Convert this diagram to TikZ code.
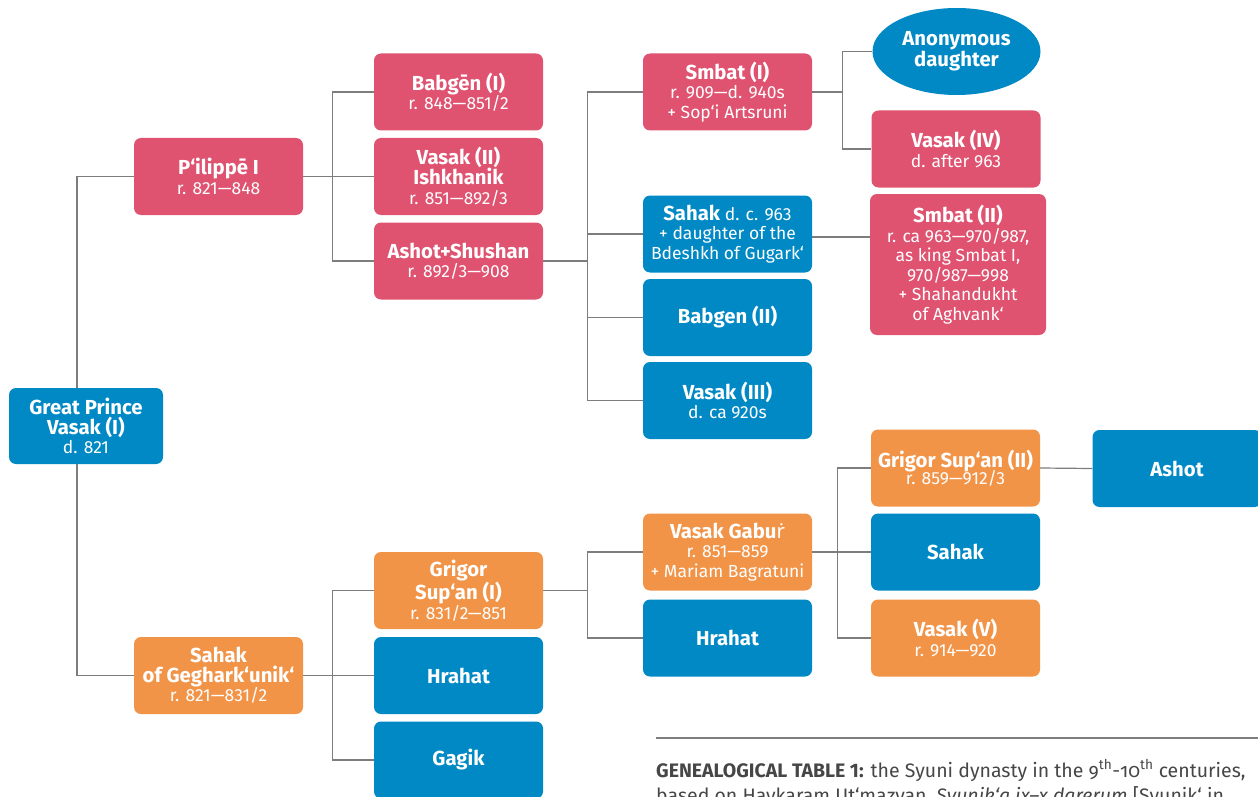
\documentclass[tikz,border=0pt]{standalone}
\usepackage{fontspec}
\setmainfont{Fira Sans}
\newfontfamily\extlatin{Noto Sans}
\usetikzlibrary{shapes.geometric,backgrounds,calc}

\definecolor{pinkbox}{RGB}{223,82,112}
\definecolor{bluebox}{RGB}{0,137,196}
\definecolor{orangebox}{RGB}{242,148,72}
\definecolor{linegray}{RGB}{125,125,125}
\definecolor{captext}{RGB}{70,70,70}

% name line inside a box
\newcommand{\nm}[1]{{\fontsize{20.3}{20}\selectfont\bfseries #1}}
\newcommand{\osn}[1]{{\addfontfeatures{Numbers=OldStyle}#1}}
% r with dot above, taken from a family that has the glyph
\newcommand{\rdot}{{\extlatin\bfseries ṙ}}

\tikzset{
  person/.style={rounded corners=7pt, minimum width=169pt, minimum height=77pt,
    align=center, text=white, inner sep=2pt, font=\fontsize{17.5}{19.5}\selectfont},
  pk/.style={person, fill=pinkbox},
  bl/.style={person, fill=bluebox},
  og/.style={person, fill=orangebox},
  link/.style={draw=linegray, line width=1.2pt},
  captionfont/.style={anchor=base west, inner sep=0pt, text=captext,
    font=\fontsize{19.5}{24}\selectfont},
}

\begin{document}
\begin{tikzpicture}[x=1pt,y=-1pt]
\useasboundingbox (0,0) rectangle (1258,797);
\clip (0,0) rectangle (1258,797);

% generation 1
\node[bl, minimum width=154pt, minimum height=76pt] (vasakI) at (86,426)
  {\nm{Great Prince}\\\nm{Vasak (I)}\\d. 821};
\coordinate (trunk) at (77,426);

% generation 2
\node[pk] (pilippe) at (218.5,176.5) {\nm{P‘ilippē I}\\r. 821—848};
\node[og] (sahakG) at (218.5,675.5) {\nm{Sahak}\\\nm{of Geghark‘unik‘}\\r. 821—831/2};

% generation 3
\node[pk] (babgenI) at (458.5,92) {\nm{Babgēn (I)}\\r. 848—851/2};
\node[pk] (vasakII) at (458.5,176.5) {\nm{Vasak (II)}\\\nm{Ishkhanik}\\r. 851—892/3};
\node[pk] (ashotS) at (458.5,261) {\nm{Ashot+Shushan}\\r. 892/3—908};
\node[og] (grigorI) at (458.5,590.5) {\nm{Grigor}\\\nm{Sup‘an (I)}\\r. 831/2—851};
\node[bl] (hrahatA) at (458.5,675.5) {\nm{Hrahat}};
\node[bl] (gagik) at (458.5,760) {\nm{Gagik}};

% generation 4
\node[pk] (smbatI) at (727.5,92) {\nm{Smbat (I)}\\r. 909—d. 940s\\+ Sop‘i Artsruni};
\node[bl] (sahakD) at (727.5,234) {\nm{Sahak} d. c. 963\\+ daughter of the\\Bdeshkh of Gugark‘};
\node[bl] (babgenII) at (727.5,317.5) {\nm{Babgen (II)}};
\node[bl] (vasakIII) at (727.5,400.5) {\nm{Vasak (III)}\\d. ca 920s};
\node[og] (gabur) at (727.5,552) {\nm{Vasak Gabu\rdot}\\r. 851—859\\+ Mariam Bagratuni};
\node[bl] (hrahatB) at (727.5,638) {\nm{Hrahat}};

% generation 5
\node[ellipse, fill=bluebox, text=white, minimum width=168pt, minimum height=87pt,
  inner sep=0pt, align=center, font=\fontsize{17.5}{21}\selectfont] (anon) at (956.5,51.5)
  {\nm{Anonymous}\\\nm{daughter}};
\node[pk] (vasakIV) at (956,149) {\nm{Vasak (IV)}\\d. after 963};
\node[pk, minimum width=176pt, minimum height=141pt] (smbatII) at (958,264.5)
  {\nm{Smbat (II)}\\r. ca 963—970/987,\\as king Smbat I,\\970/987—998\\+ Shahandukht\\of Aghvank‘};
\node[og] (grigorII) at (955.5,468) {\nm{Grigor Sup‘an (II)}\\[-2pt]r. 859—912/3};
\node[bl] (sahakB) at (955.5,552) {\nm{Sahak}};
\node[og] (vasakV) at (955.5,638) {\nm{Vasak (V)}\\r. 914—920};

% generation 6
\node[bl] (ashotB) at (1177,468.5) {\nm{Ashot}};

% connectors
\begin{scope}[on background layer]
  \draw[link] (trunk) |- (pilippe.west);
  \draw[link] (trunk) |- (sahakG.west);

  \draw[link] (pilippe.east) -- ++(29,0) |- (babgenI.west);
  \draw[link] (pilippe.east) -- (vasakII.west);
  \draw[link] (pilippe.east) -- ++(29,0) |- (ashotS.west);

  \draw[link] (ashotS.east) -- ++(44,0) |- (smbatI.west);
  \draw[link] (ashotS.east) -- ++(44,0) |- (sahakD.west);
  \draw[link] (ashotS.east) -- ++(44,0) |- (babgenII.west);
  \draw[link] (ashotS.east) -- ++(44,0) |- (vasakIII.west);

  \draw[link] (smbatI.east) -- ++(30,0) |- (anon.west);
  \draw[link] (smbatI.east) -- ++(30,0) |- (vasakIV.west);

  \draw[link] ($(sahakD.east)+(0,3)$) -- ($(sahakD.east -| smbatII.west)+(0,3)$);

  \draw[link] (sahakG.east) -- ++(29,0) |- (grigorI.west);
  \draw[link] (sahakG.east) -- (hrahatA.west);
  \draw[link] (sahakG.east) -- ++(29,0) |- (gagik.west);

  \draw[link] (grigorI.east) -- ++(44,0) |- (gabur.west);
  \draw[link] (grigorI.east) -- ++(44,0) |- (hrahatB.west);

  \draw[link] (gabur.east) -- ++(25,0) |- (grigorII.west);
  \draw[link] (gabur.east) -- (sahakB.west);
  \draw[link] (gabur.east) -- ++(25,0) |- (vasakV.west);

  \draw[link] (grigorII.east) -- (ashotB.west);
\end{scope}

% caption
\draw[draw=linegray, line width=1.2pt] (656,738) -- (1258,738);
\node[captionfont] (captionA) at (656,777)
  {\textbf{GENEALOGICAL TABLE 1:} the Syuni dynasty in the \osn{9}\textsuperscript{th}-\osn{10}\textsuperscript{th} centuries,};
\node[captionfont] (captionB) at (656,802)
  {based on Haykaram Ut‘mazyan, \textit{Syunik‘a ix–x darerum} [Syunik‘ in};
\end{tikzpicture}
\end{document}
